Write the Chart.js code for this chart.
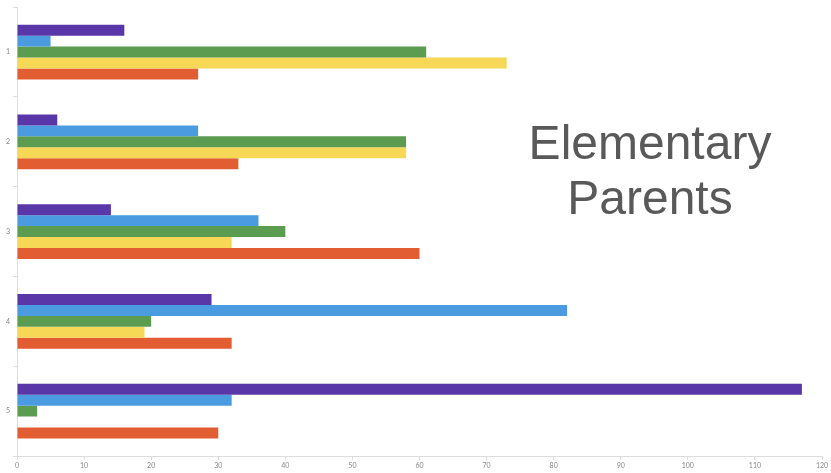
<!DOCTYPE html>
<html>
<head>
<meta charset="utf-8">
<script src="https://cdn.jsdelivr.net/npm/chart.js@4"></script>
<style>
	html, body { margin: 0; padding: 0; background: #fff; }
	#wrap { position: relative; width: 831px; height: 473px; }
	#title {
		position: absolute; left: 480px; top: 115px; width: 340px;
		text-align: center; font-family: "Liberation Sans", Arial, sans-serif;
		font-size: 48px; line-height: 55px; color: #595959;
	}
</style>
</head>
<body>
<div id="wrap">
	<canvas id="myChart" width="831" height="473"></canvas>
	<div id="title">Elementary<br>Parents</div>
</div>
<script>
var categories = ["1", "2", "3", "4", "5"]
var purple = [16, 6, 14, 29, 117]
var blue = [5, 27, 36, 82, 32]
var green = [61, 58, 40, 20, 3]
var yellow = [73, 58, 32, 19, 0]
var orange = [27, 33, 60, 32, 30]
var xTicks = [0, 10, 20, 30, 40, 50, 60, 70, 80, 90, 100, 110, 120]

var ctx = document.getElementById("myChart").getContext('2d')
var chart = new Chart(ctx, {
	type: 'bar',
	data: {
		labels: categories,
		datasets: [
			{ label: "A", data: purple, backgroundColor: "#5a37a9" },
			{ label: "B", data: blue, backgroundColor: "#4a9be0" },
			{ label: "C", data: green, backgroundColor: "#5b9c51" },
			{ label: "D", data: yellow, backgroundColor: "#f6d856" },
			{ label: "E", data: orange, backgroundColor: "#e25d31" }
		]
	},
	options: {
		indexAxis: 'y',
		responsive: false,
		animation: false,
		layout: { padding: { top: 4, right: 9, left: 0, bottom: 0 } },
		datasets: { bar: { categoryPercentage: 0.61, barPercentage: 1 } },
		plugins: { legend: { display: false }, tooltip: { enabled: false } },
		scales: {
			x: {
				min: 0, max: 120,
				afterBuildTicks: function(s){ s.ticks = xTicks.map(function(v){ return { value: v } }) },
				afterFit: function(s){ s.height = 17 },
				grid: { drawOnChartArea: false, tickLength: 4, color: "#ddd" },
				border: { color: "#ddd" },
				ticks: { font: { size: 7, family: "Lato" }, color: "#888", padding: 2, maxRotation: 0 }
			},
			y: {
				afterFit: function(s){ s.width = 17 },
				grid: { drawOnChartArea: false, offset: true, tickLength: 4, color: "#ddd" },
				border: { color: "#ddd" },
				ticks: { font: { size: 7, family: "Lato" }, color: "#888", padding: 3 }
			}
		}
	}
})
</script>
</body>
</html>
